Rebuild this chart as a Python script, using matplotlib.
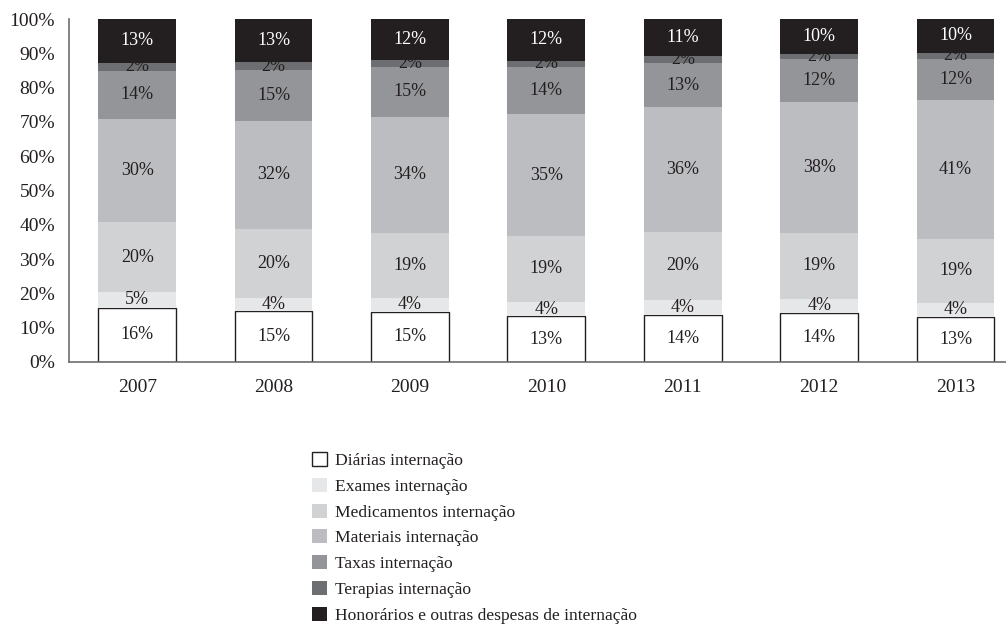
import numpy as np
import matplotlib
matplotlib.use('Agg')
from matplotlib import pyplot as plt
from matplotlib.patches import Patch

plt.rcParams['font.family'] = ['Liberation Serif', 'DejaVu Serif']

anos = ['2007', '2008', '2009', '2010', '2011', '2012', '2013']

# share of each item per year (%), bottom to top
diarias = [15.8, 15.0, 14.6, 13.4, 13.7, 14.2, 13.2]
exames = [4.7, 3.6, 4.1, 4.1, 4.4, 4.3, 4.1]
medicamentos = [20.2, 20.1, 19.0, 19.3, 19.8, 19.0, 18.6]
materiais = [30.2, 31.7, 33.8, 35.4, 36.3, 38.3, 40.6]
taxas = [14.0, 14.6, 14.6, 13.7, 13.1, 12.4, 11.8]
terapias = [2.4, 2.4, 2.0, 2.0, 2.0, 1.6, 1.9]
honorarios = [12.7, 12.6, 11.9, 12.2, 10.7, 10.3, 9.8]

series = [diarias, exames, medicamentos, materiais, taxas, terapias, honorarios]
nomes = ['Diárias internação', 'Exames internação', 'Medicamentos internação',
         'Materiais internação', 'Taxas internação', 'Terapias internação',
         'Honorários e outras despesas de internação']
cores = ['#ffffff', '#e6e7e8', '#d1d2d4', '#bcbdc0', '#939598', '#6d6e71', '#231f20']

fig = plt.figure(figsize=(10.06, 6.28), dpi=100)
ax = fig.add_axes([69/1006, 1-362/628, 1-69/1006, 343/628])

x = np.arange(len(anos))
base = np.zeros(len(anos))
for i, s in enumerate(series):
    s = np.array(s)
    if i == 0:
        ax.bar(x, s, 0.57, bottom=base, color=cores[i], edgecolor='#231f20', linewidth=1.0)
    else:
        ax.bar(x, s, 0.57, bottom=base, color=cores[i], linewidth=0)
    tc = 'white' if i == 6 else '#231f20'
    for xi, b, v in zip(x, base, s):
        ax.text(xi, b + v/2, '%d%%' % round(v), ha='center', va='center',
                fontsize=13, color=tc)
    base = base + s

ax.set_xlim(-0.5, 6.37)
ax.set_ylim(0, 100)
ax.set_yticks(np.arange(0, 101, 10))
ax.set_yticklabels(['%d%%' % t for t in range(0, 101, 10)])
ax.set_xticks(x)
ax.set_xticklabels(anos)
ax.tick_params(axis='both', length=0, labelsize=14, colors='#231f20')
ax.tick_params(axis='y', pad=10)
ax.tick_params(axis='x', pad=12)
for sp in ['top', 'right']:
    ax.spines[sp].set_visible(False)
for sp in ['left', 'bottom']:
    ax.spines[sp].set_color('#6d6e71')
    ax.spines[sp].set_linewidth(1.2)

handles = []
for i in range(len(nomes)):
    if i == 0:
        handles.append(Patch(facecolor=cores[i], edgecolor='#231f20', linewidth=1.0, label=nomes[i]))
    else:
        handles.append(Patch(facecolor=cores[i], edgecolor='none', label=nomes[i]))
fig.legend(handles=handles, loc='upper left', bbox_to_anchor=(312/1006, 1-452/628),
           frameon=False, fontsize=12.6, handlelength=0.85, handleheight=0.85,
           handletextpad=0.45, labelspacing=0.5, borderpad=0, borderaxespad=0,
           labelcolor='#231f20')

fig.savefig('out.png', dpi=100)
